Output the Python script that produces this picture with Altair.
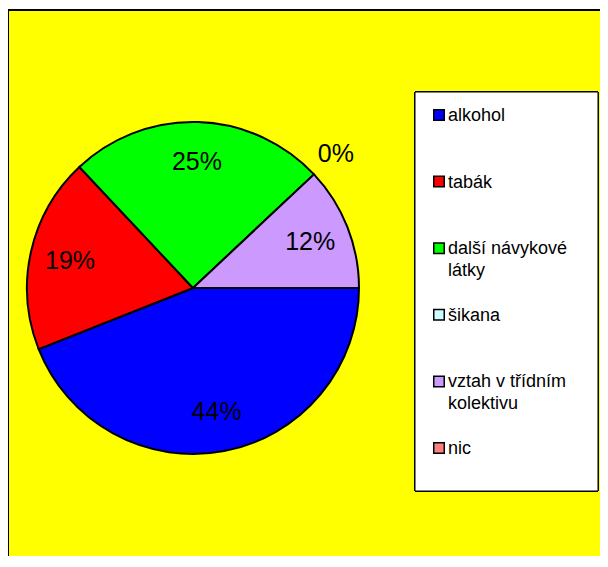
import altair as alt
import pandas as pd

categories = ["alkohol", "tabák", "další návykové látky", "šikana", "vztah v třídním kolektivu", "nic"]
legend_labels = ["alkohol", "tabák", "další návykové\nlátky", "šikana", "vztah v třídním\nkolektivu", "nic"]
values = [44, 19, 25, 0, 12, 0]
colors = ["#0000FF", "#FF0000", "#00FF00", "#CCFFFF", "#CC99FF", "#FF8080"]
outside_labels = ["šikana"]

df = pd.DataFrame({
    "category": categories,
    "legend": legend_labels,
    "value": values,
    "idx": list(range(len(categories))),
})
df["inner"] = [f"{v}%" if v > 0 else "" for v in values]
df["outer"] = [f"{v}%" if c in outside_labels else "" for c, v in zip(categories, values)]

FONT = "Liberation Sans"
W, H = 592, 546
cx, cy = 185, 278
color_scale = alt.Scale(domain=categories, range=colors)
theta_scale = alt.Scale(range=[1.5707963, 7.8539816])

base = alt.Chart(df)

arcs = base.mark_arc(stroke="#000000", strokeWidth=2).encode(
    theta=alt.Theta("value:Q", stack=True, scale=theta_scale),
    color=alt.Color("category:N", scale=color_scale, legend=None),
    order=alt.Order("idx:Q"),
    x=alt.value(cx), y=alt.value(cy), radius=alt.value(166),
)

inner_text = base.mark_text(font=FONT, fontSize=25, color="#000000").encode(
    theta=alt.Theta("value:Q", stack=True, scale=theta_scale),
    order=alt.Order("idx:Q"),
    text="inner:N",
    x=alt.value(cx), y=alt.value(cy), radius=alt.value(126),
)

outer_text = base.mark_text(font=FONT, fontSize=25, color="#000000").encode(
    theta=alt.Theta("value:Q", stack=True, scale=theta_scale),
    order=alt.Order("idx:Q"),
    text="outer:N",
    x=alt.value(cx), y=alt.value(cy), radius=alt.value(196),
)

border_left = base.mark_rule(color="#000000", strokeWidth=1.5).encode(
    x=alt.value(0), y=alt.value(0), y2=alt.value(H),
)
border_top = base.mark_rule(color="#000000", strokeWidth=1.5).encode(
    x=alt.value(0), x2=alt.value(W), y=alt.value(0),
)

legend_box = base.mark_rect(fill="#FFFFFF", stroke="#000000", strokeWidth=1).encode(
    x=alt.value(407), x2=alt.value(590), y=alt.value(82), y2=alt.value(481),
)

ypos = alt.Y("category:N", sort=categories, axis=None,
             scale=alt.Scale(type="point", padding=0, range=[105, 438]))

legend_sym = base.mark_point(shape="square", filled=True, size=110, stroke="#000000",
                             strokeWidth=1.5, opacity=1).encode(
    x=alt.value(431),
    y=ypos,
    fill=alt.Color("category:N", scale=color_scale, legend=None),
)

legend_txt = base.mark_text(font=FONT, fontSize=18, align="left", baseline="alphabetic",
                            dy=6, lineBreak="\n", lineHeight=22, color="#000000").encode(
    x=alt.value(440),
    y=ypos,
    text="legend:N",
)

chart = alt.layer(arcs, inner_text, outer_text, border_left, border_top,
                  legend_box, legend_sym, legend_txt).properties(
    width=W, height=H,
    padding={"left": 0, "top": 2, "right": 0, "bottom": 0},
    autosize=alt.AutoSizeParams(type="none"),
    background="#FFFFFF",
).configure_view(fill="#FFFF00", strokeWidth=0)

chart.save("out.html", embed_options={"renderer": "svg", "actions": False})
